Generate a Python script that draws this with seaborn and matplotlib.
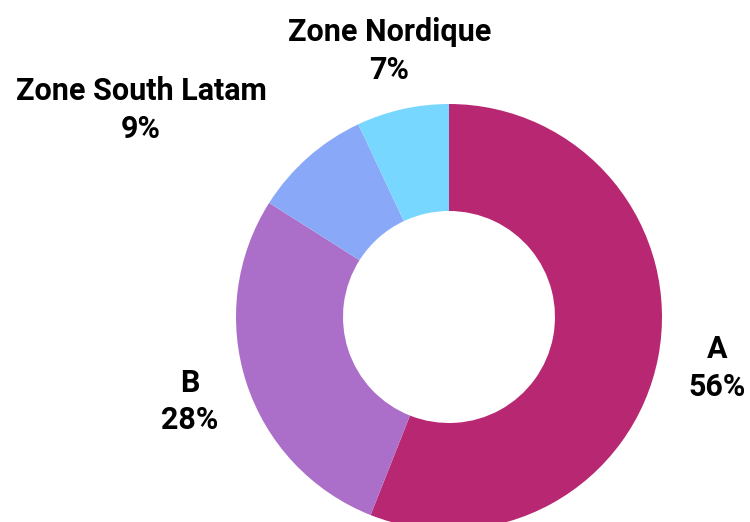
import matplotlib
matplotlib.use("Agg")
import matplotlib.pyplot as plt
import seaborn as sns

sns.set_theme(style="white")

labels = ["A", "B", "Zone South Latam", "Zone Nordique"]
values = [56, 28, 9, 7]
colors = ["#B82872", "#AB6FCA", "#89A9F8", "#77D7FF"]

plt.rcParams["font.family"] = ["Roboto", "DejaVu Sans"]

fig = plt.figure(figsize=(7.5, 5.22), dpi=100)
ax = fig.add_axes([0, 0, 1, 1])

texts_lbl = [f"{l}\n{v}%" for l, v in zip(labels, values)]
wedges, texts = ax.pie(values, labels=texts_lbl, colors=colors, startangle=90,
                       counterclock=False, center=(449, 205), radius=213,
                       labeldistance=1.28, frame=True,
                       wedgeprops=dict(width=107, linewidth=0),
                       textprops=dict(fontsize=22, fontweight="semibold", color="black",
                                      ha="center", va="center", linespacing=1.3))
ax.set_xlim(0, 750)
ax.set_ylim(0, 522)
ax.set_aspect("equal")
ax.axis("off")
for t in texts:
    t.set_horizontalalignment("center")
# South Latam label is placed farther out to avoid overlap
texts[2].set_position((141, 412))

fig.savefig("out.png", dpi=100)
